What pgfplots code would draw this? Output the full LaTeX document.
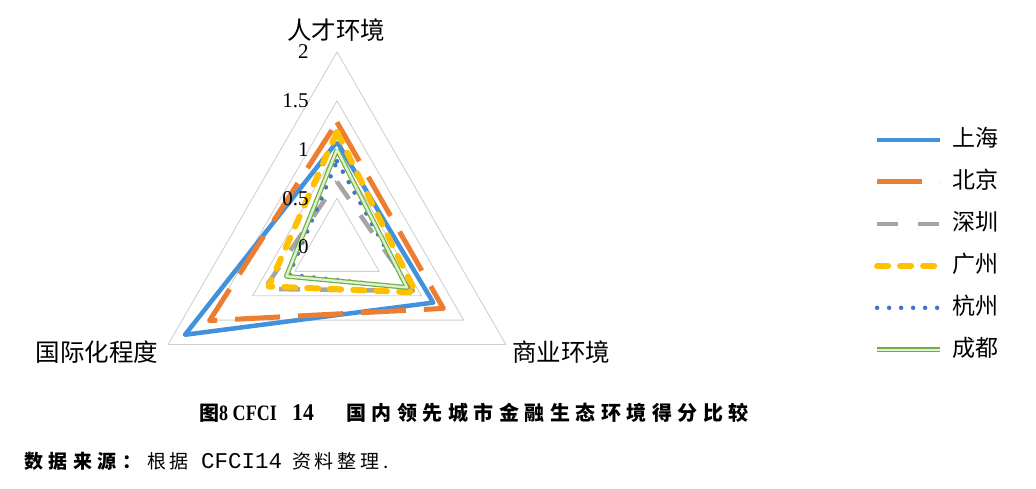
\documentclass[border=0pt]{standalone}
\usepackage{pgfplots}
\pgfplotsset{compat=1.18}
\usepgfplotslibrary{polar}
\usepackage{graphicx}
\usepackage{fontspec}
\setmainfont{Liberation Serif}
\setmonofont{Liberation Mono}
\newfontfamily\cjk{Noto Sans CJK SC}

\definecolor{shblue}{RGB}{65,145,220}
\definecolor{bjorange}{RGB}{237,125,49}
\definecolor{szgray}{RGB}{165,165,165}
\definecolor{gzyellow}{RGB}{255,192,0}
\definecolor{hzblue}{RGB}{68,114,196}
\definecolor{cdgreen}{RGB}{112,173,71}
\definecolor{cdlight}{RGB}{222,240,205}
\definecolor{gridgray}{RGB}{208,208,208}

\begin{document}
\begin{tikzpicture}[x=1pt,y=1pt]
\path[use as bounding box] (0,0) rectangle (1036,488);
\begin{axis}[
    at={(337pt,241pt)}, anchor=center,
    scale only axis,
    width=390pt, height=390pt,
    xmin=-2, xmax=2, ymin=-2, ymax=2,
    hide axis, clip=false,
    data cs=polar,
    line join=round,
    legend cell align=left,
    legend image code/.code={\draw[#1] (0pt,0pt) -- (63pt,0pt);},
    legend style={draw=none, fill=none,
        at={(axis description cs:1.869,0.81)}, anchor=north west,
        font=\cjk\fontsize{23}{26}\selectfont,
        row sep=19pt,
        nodes={inner sep=1pt, text height=17pt, text depth=4pt},
        /tikz/every odd column/.append style={column sep=8pt}},
    ]
% grid triangles
\addplot[forget plot, gridgray, line width=0.9pt] coordinates {(90,0.5) (-30,0.5) (210,0.5) (90,0.5)};
\addplot[forget plot, gridgray, line width=0.9pt] coordinates {(90,1) (-30,1) (210,1) (90,1)};
\addplot[forget plot, gridgray, line width=0.9pt] coordinates {(90,1.5) (-30,1.5) (210,1.5) (90,1.5)};
\addplot[forget plot, gridgray, line width=0.9pt] coordinates {(90,2) (-30,2) (210,2) (90,2)};

% (angle, score): 90 = 人才环境, -30 = 商业环境, 210 = 国际化程度
\addplot[shblue, line width=4.5pt] coordinates {(90,1.08) (-30,1.14) (210,1.80) (90,1.08)};
\addlegendentry{上海}
\addplot[bjorange, line width=5pt, dash pattern=on 45pt off 18pt] coordinates {(90,1.28) (-30,1.26) (210,1.51) (90,1.28)};
\addlegendentry{北京}
\addplot[szgray, line width=4.5pt, dash pattern=on 21pt off 20pt] coordinates {(90,0.67) (-30,0.90) (210,0.86) (90,0.67)};
\addlegendentry{深圳}
\addplot[gzyellow, line width=6pt, line cap=round, dash pattern=on 11pt off 12pt] coordinates {(90,1.18) (-30,0.93) (210,0.81) (90,1.18)};
\addlegendentry{广州}
\addplot[hzblue, line width=4.5pt, line cap=round, dash pattern=on 0pt off 12pt] coordinates {(90,0.88) (-30,0.84) (210,0.57) (90,0.88)};
\addlegendentry{杭州}
\addplot[cdgreen, line width=1.2pt, double=cdlight, double distance=2.4pt] coordinates {(90,1.00) (-30,0.83) (210,0.60) (90,1.00)};
\addlegendentry{成都}

% radial value labels
\node[anchor=east, font=\fontsize{21}{21}\selectfont] at (axis cs:-0.256,2) {2};
\node[anchor=east, font=\fontsize{21}{21}\selectfont] at (axis cs:-0.256,1.5) {1.5};
\node[anchor=east, font=\fontsize{21}{21}\selectfont] at (axis cs:-0.256,1) {1};
\node[anchor=east, font=\fontsize{21}{21}\selectfont] at (axis cs:-0.256,0.5) {0.5};
\node[anchor=east, font=\fontsize{21}{21}\selectfont] at (axis cs:-0.256,0) {0};
\end{axis}

% category labels
\node[font=\cjk\fontsize{24.5}{24.5}\selectfont] at (336,458) {人才环境};
\node[font=\cjk\fontsize{24.5}{24.5}\selectfont] at (97,136) {国际化程度};
\node[font=\cjk\fontsize{24.5}{24.5}\selectfont] at (561,136) {商业环境};

% caption
\node[anchor=base west, inner sep=0pt, font=\cjk\bfseries\fontsize{20}{20}\selectfont] at (199,68) {图};
\node[anchor=base west, inner sep=0pt, font=\bfseries\fontsize{22}{22}\selectfont] at (219,68) {\scalebox{0.82}[1]{8 CFCI}};
\node[anchor=base west, inner sep=0pt, font=\bfseries\fontsize{24}{24}\selectfont] at (292,68) {\scalebox{0.9}[1]{14}};
\node[anchor=base west, inner sep=0pt, font=\cjk\bfseries\fontsize{20}{20}\selectfont\addfontfeature{LetterSpace=27.5}] at (346,68) {国内领先城市金融生态环境得分比较};

% source
\node[anchor=base west, inner sep=0pt, font=\cjk\bfseries\fontsize{19}{19}\selectfont\addfontfeature{LetterSpace=29}] at (24,20) {数据来源：};
\node[anchor=base west, inner sep=0pt, font=\cjk\fontsize{19}{19}\selectfont\addfontfeature{LetterSpace=18}] at (147,20) {根据};
\node[anchor=base west, inner sep=0pt, font=\ttfamily\fontsize{22.5}{22.5}\selectfont] at (201,20) {CFCI14};
\node[anchor=base west, inner sep=0pt, font=\cjk\fontsize{19}{19}\selectfont\addfontfeature{LetterSpace=20}] at (292,20) {资料整理.};
\end{tikzpicture}
\end{document}
